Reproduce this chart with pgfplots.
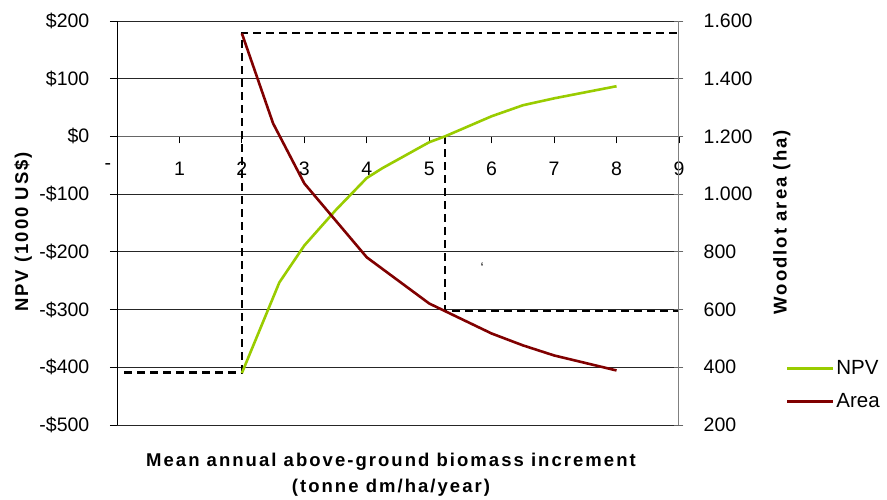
\documentclass[border=0pt]{standalone}
\usepackage{pgfplots}
\pgfplotsset{compat=1.18}
\usepackage{fontspec}
\setmainfont{Liberation Sans}
\newfontfamily\lblfont[LetterSpace=11]{Liberation Sans}
\definecolor{npvc}{RGB}{153,204,0}
\definecolor{areac}{RGB}{128,0,0}
\begin{document}
\begin{tikzpicture}[x=1pt,y=1pt]
\path[use as bounding box] (0,0) rectangle (887,499);
\begin{axis}[
  at={(117pt,74pt)}, anchor=south west,
  scale only axis, width=562pt, height=404pt,
  xmin=0, xmax=9, ymin=-500, ymax=200,
  axis x line=middle, axis y line=left,
  hide obscured x ticks=false,
  axis line style={-},
  x axis line style={black!60, line width=0.8pt},
  y axis line style={black, line width=0.8pt},
  clip=false,
  xtick={0,1,...,9},
  xticklabels={{\raisebox{6pt}{\llap{-\kern6pt}}},1,2,3,4,5,6,7,8,9},
  ytick={-500,-400,...,200},
  yticklabels={-\$500,-\$400,-\$300,-\$200,-\$100,\$0,\$100,\$200},
  tick align=center,
  major tick length=7pt,
  x tick style={black, line width=0.8pt, yshift=-3.5pt},
  y tick style={black, line width=0.8pt, xshift=-3.5pt},
  tick label style={font=\fontsize{19.5}{23}\selectfont},
  xticklabel style={anchor=base, inner sep=0pt, yshift=-36pt},
  yticklabel style={anchor=east, inner sep=0pt, xshift=-24pt},
  ymajorgrids,
  grid style={black!85, line width=0.8pt},
  ylabel={NPV (1000 US\$)},
  ylabel style={at={(axis description cs:-0.167,0.478)}, anchor=center, font=\lblfont\bfseries\fontsize{18.5}{22}\selectfont},
  xlabel={Mean annual above-ground biomass increment\\(tonne dm/ha/year)},
  xlabel style={at={(axis description cs:0.4875,-0.062)}, anchor=north, align=center, font=\lblfont\bfseries\fontsize{18.5}{26}\selectfont},
]
\addplot[black, line width=2.1pt, dash pattern=on 8pt off 5pt] coordinates {(0.12,-409) (2,-409) (2,178.5) (9,178.5)};
\addplot[black, line width=2.1pt, dash pattern=on 8pt off 5pt] coordinates {(5.25,0) (5.25,-302.5) (9,-302.5)};
\addplot[npvc, line width=2.6pt] coordinates {
(2,-410) (2.6,-253) (3,-189) (3.5,-128) (4,-72) (4.25,-55) (5,-10) (5.25,0) (6,35) (6.5,54) (7,66) (8,87)};
\node[font=\fontsize{14}{16}\selectfont] at (axis cs:5.85,-228) {`};
\end{axis}
\begin{axis}[
  at={(117pt,74pt)}, anchor=south west,
  scale only axis, width=562pt, height=404pt,
  xmin=0, xmax=9, ymin=200, ymax=1600,
  axis y line*=right, axis x line=none,
  axis line style={-, black!50, line width=1pt},
  clip=false,
  ytick={200,400,...,1600},
  yticklabels={200,400,600,800,1.000,1.200,1.400,1.600},
  tick align=center,
  major tick length=9pt,
  y tick style={black!60, line width=0.8pt},
  tick label style={font=\fontsize{19.5}{23}\selectfont},
  yticklabel style={anchor=west, inner sep=0pt, xshift=20pt},
  ylabel={Woodlot area (ha)},
  ylabel style={at={(axis description cs:1.183,0.502)}, anchor=center, rotate=0, font=\lblfont\bfseries\fontsize{18.5}{22}\selectfont},
  legend style={draw=none, fill=none, at={(axis description cs:1.19,0.163)}, anchor=north west,
    inner sep=0pt, outer sep=0pt, font=\fontsize{20.5}{24}\selectfont,
    nodes={inner sep=0pt, text height=15pt, text depth=4pt}, row sep=14pt},
  legend cell align=left,
  legend image code/.code={\draw[#1] (0pt,0pt) -- (46pt,0pt); \path (48pt,0pt);},
]
\addlegendimage{npvc, line width=2.6pt}
\addlegendentry{NPV}
\addplot[areac, line width=2.6pt] coordinates {
(2,1557) (2.5,1245) (3,1037) (4,781) (5,621) (6,517) (6.5,476) (7,441) (8,389)};
\addlegendentry{Area}
\end{axis}
\end{tikzpicture}
\end{document}
